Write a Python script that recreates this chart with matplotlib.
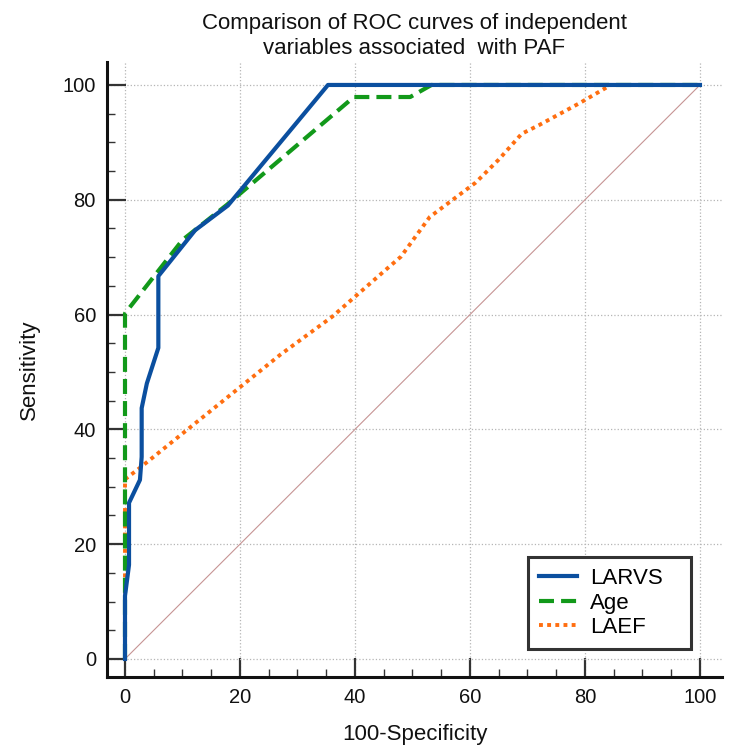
import numpy as np
import matplotlib
matplotlib.use("Agg")
import matplotlib.pyplot as plt
from matplotlib.ticker import MultipleLocator

# ROC curves (100-Specificity, Sensitivity)
larvs_x = [0, 0, 0.7, 0.7, 2.6, 2.9, 2.9, 3.8, 5.8, 5.8, 12.2, 17.9, 35.3, 100]
larvs_y = [0, 11.0, 16.4, 27.2, 31.2, 35.2, 43.7, 48.0, 54.2, 66.7, 74.7, 79.0, 100, 100]

age_x = [0, 0, 10.0, 17.7, 39.8, 49.6, 53.3, 100]
age_y = [0, 60.2, 73.0, 79.1, 97.9, 97.9, 100, 100]

laef_x = [0, 0, 2.6, 27.0, 36.0, 45.0, 48.0, 53.0, 57.0, 61.0, 65.0, 69.0, 72.0, 79.0, 84.5, 100]
laef_y = [0, 31.3, 33.3, 53.0, 59.6, 67.5, 70.1, 77.0, 80.0, 83.0, 87.0, 91.5, 93.0, 96.8, 100, 100]

ref_x = [0, 100]
ref_y = [0, 100]

labels = ["LARVS", "Age", "LAEF"]
colors = ["#0b4f9f", "#12991a", "#ff6e10"]

plt.rcParams['font.family'] = ['Liberation Sans', 'DejaVu Sans']

fig = plt.figure(figsize=(7.35, 7.49), dpi=100)
ax = fig.add_axes([107 / 735, 72 / 749, 615 / 735, 615 / 749])

ax.plot(ref_x, ref_y, color="#c69494", lw=0.8, zorder=2)
ax.plot(larvs_x, larvs_y, color=colors[0], lw=3, label=labels[0], zorder=5)
ax.plot(age_x, age_y, color=colors[1], lw=3, ls=(0, (3.6, 1.7)), label=labels[1], zorder=4)
ax.plot(laef_x, laef_y, color=colors[2], lw=2.8, ls=(0, (1, 1.1)), label=labels[2], zorder=3)

ax.set_xlim(-3.13, 103.83)
ax.set_ylim(-3.14, 104.0)

ax.xaxis.set_major_locator(MultipleLocator(20))
ax.yaxis.set_major_locator(MultipleLocator(20))
ax.xaxis.set_minor_locator(MultipleLocator(5))
ax.yaxis.set_minor_locator(MultipleLocator(5))

ax.grid(True, which="major", ls=":", color="#b5b5b5", lw=0.9)
ax.set_axisbelow(True)

for s in ["top", "right"]:
    ax.spines[s].set_visible(False)
for s in ["left", "bottom"]:
    ax.spines[s].set_linewidth(2.2)
    ax.spines[s].set_color("#111111")

ax.tick_params(which="major", direction="in", length=13.5, width=1.6, color="#333333",
               labelsize=14.5, pad=8, labelcolor="#111111")
ax.tick_params(which="minor", direction="in", length=6, width=1.0, color="#333333")

ax.set_xlabel("100-Specificity", fontsize=16, labelpad=12, color="#111111")
ax.set_ylabel("Sensitivity", fontsize=16, labelpad=16, color="#111111")
ax.set_title("Comparison of ROC curves of independent\nvariables associated  with PAF",
             fontsize=16, pad=6, color="#111111", linespacing=1.25)

leg = ax.legend(loc="lower left", bbox_to_anchor=(0.6846, 0.0455, 0.265, 0.15),
                mode="expand", borderaxespad=0,
                fontsize=16, frameon=True, fancybox=False, framealpha=1,
                handlelength=1.7, handletextpad=0.6, labelspacing=0.15,
                borderpad=0.5)
leg.get_frame().set_edgecolor("#333333")
leg.get_frame().set_linewidth(2.2)

fig.savefig("out.png", dpi=100)
